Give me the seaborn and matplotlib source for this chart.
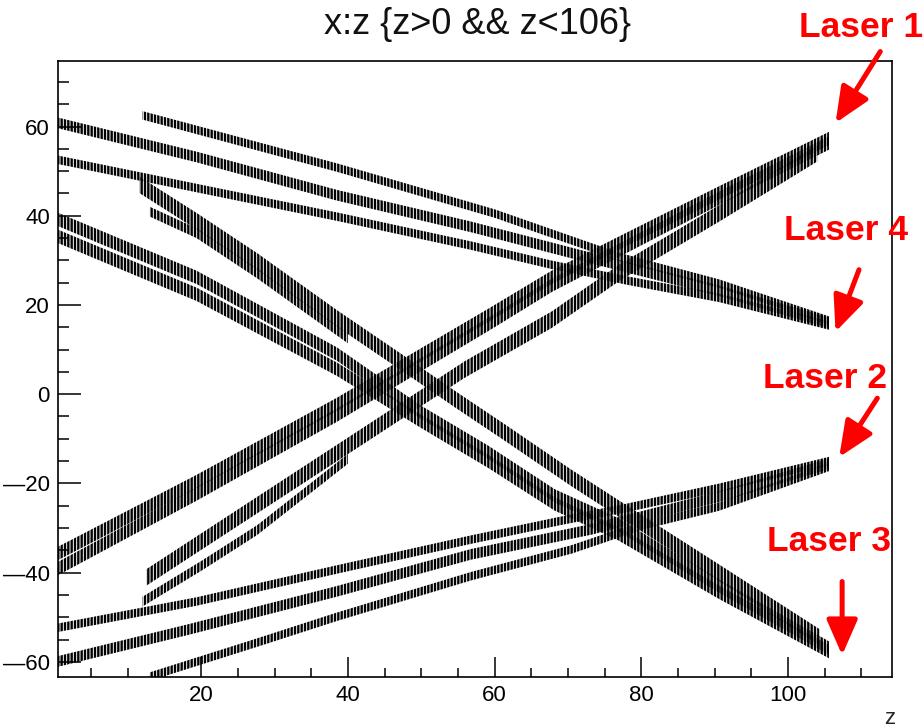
import matplotlib
matplotlib.use("Agg")
import matplotlib.pyplot as plt
from matplotlib.ticker import MultipleLocator, FuncFormatter
import numpy as np
import pandas as pd
import seaborn as sns

sns.set_theme(style="ticks")
plt.rcParams["font.family"] = ["Liberation Sans", "DejaVu Sans"]
plt.rcParams["hatch.linewidth"] = 1.7

# ---- laser track bands: z nodes, band centre x, vertical half-spread ----
# Laser 1 (upper right end), double band A and steep band B
L1_A_Z = [0, 19.35, 38.5, 47.7, 59.5, 67.8, 76.9, 90.6, 105.6]
L1_A1_X = [-36.1, -19.6, -2.3, 6.6, 18.0, 26.2, 33.8, 45.1, 57.3]
L1_A2_X = [-39.5, -22.4, -4.7, 4.4, 16.0, 24.4, 32.2, 43.9, 56.3]
L1_B1_Z = [12.5, 38.5, 55.9, 67.8, 76.9, 90.6, 104.0]
L1_B1_X = [-41.1, -13.2, 5.5, 16.7, 27.1, 40.5, 54.0]
L1_B2_Z = [12.0, 20.0, 27.6, 40.0]
L1_B2_X = [-46.5, -38.5, -30.5, -14.5]

# Laser 3 (lower right end)
L3_A_Z = [0, 19.35, 38.5, 49.9, 59.1, 68.2, 76.9, 90.6, 105.6]
L3_A1_X = [39.5, 26.2, 9.0, -4.0, -13.0, -22.8, -29.3, -43.0, -56.9]
L3_A2_X = [35.7, 22.4, 5.6, -6.0, -15.0, -24.6, -31.3, -44.4, -57.7]
L3_B1_Z = [11.6, 19.35, 27.6, 38.5, 47.0, 54.5, 61.4, 70.5, 76.9, 90.6, 104.3]
L3_B1_X = [46.9, 38.8, 29.8, 17.0, 7.5, -1.0, -8.6, -18.8, -25.6, -40.0, -54.5]
L3_B2_Z = [13.0, 19.35, 27.6, 40.0]
L3_B2_X = [40.9, 36.1, 27.1, 12.5]

# Laser 4 (shallow, upper)
L4_U1_Z = [12.0, 38.5, 60.0, 76.9, 90.6, 105.6]
L4_U1_X = [62.5, 50.8, 40.5, 30.8, 24.8, 16.5]
L4_U2_Z = [0, 19.3, 38.5, 56.8, 73.2, 90.6, 105.6]
L4_U2_X = [61.0, 53.2, 44.6, 37.5, 30.5, 23.2, 16.0]
L4_U3_Z = [0, 38.5, 56.8, 67.8, 78.0, 90.6, 105.6]
L4_U3_X = [52.7, 39.8, 33.3, 29.0, 25.5, 21.6, 15.4]

# Laser 2 (shallow, lower)
L2_D1_Z = [0, 19.3, 38.5, 56.8, 68.7, 78.0, 90.6, 105.6]
L2_D1_X = [-52.5, -46.5, -39.3, -32.6, -28.5, -25.5, -21.0, -15.0]
L2_D2_Z = [0, 18.4, 38.5, 56.8, 73.2, 90.6, 105.6]
L2_D2_X = [-60.1, -52.7, -44.2, -35.9, -30.3, -23.0, -15.6]
L2_D3_Z = [13.0, 27.6, 38.5, 56.8, 70.5, 80.0, 90.6, 105.6]
L2_D3_X = [-63.3, -55.7, -49.9, -40.8, -34.8, -29.5, -25.2, -16.3]

TRACKS = [
    (L1_A_Z, L1_A1_X, 1.5), (L1_A_Z, L1_A2_X, 1.5),
    (L1_B1_Z, L1_B1_X, 1.85), (L1_B2_Z, L1_B2_X, 1.1),
    (L3_A_Z, L3_A1_X, 1.5), (L3_A_Z, L3_A2_X, 1.5),
    (L3_B1_Z, L3_B1_X, 1.85), (L3_B2_Z, L3_B2_X, 1.1),
    (L4_U1_Z, L4_U1_X, 0.95), (L4_U2_Z, L4_U2_X, 1.2), (L4_U3_Z, L4_U3_X, 0.95),
    (L2_D1_Z, L2_D1_X, 0.95), (L2_D2_Z, L2_D2_X, 1.2), (L2_D3_Z, L2_D3_X, 0.95),
]

LASER_NAMES = ["Laser 1", "Laser 4", "Laser 2", "Laser 3"]

W, H = 924, 728
fig = plt.figure(figsize=(W / 100, H / 100), dpi=100)
ax = fig.add_axes([57.5 / W, 1 - 677 / H, (892 - 57.5) / W, (677 - 60.5) / H])

for z, x, spread in TRACKS:
    z = np.asarray(z, float)
    x = np.asarray(x, float)
    df = pd.DataFrame({"z": np.concatenate([z, z]),
                       "x": np.concatenate([x - spread, x + spread])})
    n_before = len(ax.collections)
    sns.lineplot(data=df, x="z", y="x", estimator="mean",
                 errorbar=("pi", 100), linewidth=0, color="black", ax=ax)
    for coll in ax.collections[n_before:]:
        coll.set_alpha(1)
        coll.set_facecolor("none")
        coll.set_edgecolor("black")
        coll.set_linewidth(0)
        coll.set_hatch("|||||")

ax.set_xlim(0.4, 114.2)
ax.set_ylim(-63.4, 74.8)
ax.set_xlabel("")
ax.set_ylabel("")
ax.xaxis.set_major_locator(MultipleLocator(20))
ax.xaxis.set_minor_locator(MultipleLocator(5))
ax.yaxis.set_major_locator(MultipleLocator(20))
ax.yaxis.set_minor_locator(MultipleLocator(5))
# long dash for negative labels
ax.yaxis.set_major_formatter(FuncFormatter(
    lambda v, pos: ("\u2014" if v < 0 else "") + f"{abs(v):g}"))
ax.tick_params(axis="both", which="both", direction="in", width=1.1,
               colors="black", labelsize=16, pad=5.5)
ax.tick_params(axis="x", which="major", length=14.4)
ax.tick_params(axis="x", which="minor", length=6.8)
ax.tick_params(axis="y", which="major", length=16.6)
ax.tick_params(axis="y", which="minor", length=7.9)
for side in ["left", "right", "top", "bottom"]:
    ax.spines[side].set_visible(True)
    ax.spines[side].set_color("black")
    ax.spines[side].set_linewidth(1.2)

# title and axis title
fig.text(478 / W, 1 - 34 / H, "x:z {z>0 && z<106}", fontsize=26,
         ha="center", va="baseline", color="#111111")
fig.text(895 / W, 1 - 724 / H, "z", fontsize=16, ha="right", va="baseline")

# laser labels with arrows pointing at the track ends (data coordinates)
label_pos = [(799, 37), (784, 240), (763, 388), (767, 551)]
arrow_tail = [(112.6, 76.8), (109.7, 27.9), (112.2, -0.9), (107.4, -42.0)]
arrow_tip = [(106.5, 60.8), (106.5, 14.0), (107.0, -14.1), (107.4, -58.5)]
for name, (px, py), tail, tip in zip(LASER_NAMES, label_pos, arrow_tail, arrow_tip):
    fig.text(px / W, 1 - py / H, name, color="red", fontsize=25.5,
             fontweight="bold", ha="left", va="baseline")
    ax.annotate("", xy=tip, xytext=tail, xycoords="data", textcoords="data",
                annotation_clip=False,
                arrowprops=dict(arrowstyle="-|>,head_length=0.8,head_width=0.35",
                                color="red", lw=3.6, mutation_scale=27,
                                shrinkA=0, shrinkB=0))

fig.savefig("out.png", dpi=100)
